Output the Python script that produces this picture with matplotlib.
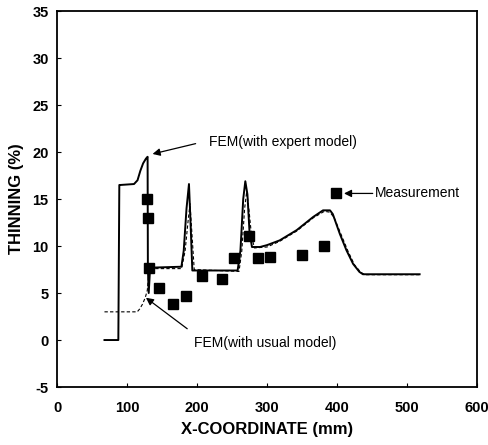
import matplotlib.pyplot as plt

plt.rcParams['font.family'] = ['Liberation Sans', 'DejaVu Sans']
plt.rcParams['axes.unicode_minus'] = False

# FEM with expert model (solid)
expert_x = [67.8, 87.6, 89, 90.5, 110, 115, 119, 123, 127, 129.4, 129.8, 131, 133,
            177.7, 181, 185, 188.5, 191, 193.3, 258, 262, 266, 269, 272, 275, 278.5,
            290, 300, 318, 342.5, 366, 380, 390, 394, 404, 413.5, 423, 432, 437, 518]
expert_y = [0, 0, 16.5, 16.5, 16.6, 17.0, 18.0, 18.8, 19.3, 19.5, 7.7, 5.0, 7.7,
            7.8, 9.5, 14, 16.6, 12, 7.4, 7.4, 9.5, 15, 16.9, 15.5, 11.5, 9.9,
            9.9, 10.1, 10.6, 11.7, 13.1, 13.8, 13.8, 13.4, 11.3, 9.55, 8.1, 7.25, 7.0, 7.0]

# FEM with usual model (dashed)
usual_x = [67.8, 114.6, 118, 122, 126, 129, 131, 134, 178, 183, 187, 190, 193, 196,
           260, 264, 268, 271, 274, 278, 282, 300, 318, 342.5, 366, 382, 390, 396,
           406, 416, 425, 434, 440, 518]
usual_y = [3, 3, 3.3, 3.8, 4.5, 5.3, 7.0, 7.6, 7.6, 9.5, 12.5, 14.5, 11, 7.5,
           7.3, 9.5, 14, 15.8, 14, 11, 9.8, 9.9, 10.5, 11.6, 13.0, 13.7, 13.6, 13,
           11.2, 9.4, 8.0, 7.2, 6.95, 6.95]

# measurements
meas_x = [128, 129.4, 131.7, 146, 165.8, 183.8, 206.5, 235, 253.4, 273.7, 286.5, 304.5, 350.4, 381.7]
meas_y = [15.0, 13.0, 7.7, 5.5, 3.8, 4.7, 6.8, 6.5, 8.7, 11.1, 8.7, 8.8, 9.1, 10.0]

fig = plt.figure(figsize=(4.89, 4.45), dpi=100)
ax = fig.add_axes([0.1166, 0.1303, 0.8589, 0.8447])

ax.plot(usual_x, usual_y, color='k', lw=0.8, ls=(0, (3, 2)))
ax.plot(expert_x, expert_y, color='k', lw=1.4)
ax.plot(meas_x, meas_y, ls='none', marker='s', ms=7, color='k')

arrow = dict(arrowstyle='-|>', color='k', lw=0.9, mutation_scale=11, shrinkA=0, shrinkB=0)
ax.annotate('', xy=(136.5, 19.8), xytext=(198, 20.9), arrowprops=arrow)
ax.text(217, 21.05, 'FEM(with expert model)', fontsize=10, va='center')
ax.annotate('', xy=(127, 4.5), xytext=(186, 1.2), arrowprops=arrow)
ax.text(195.7, -0.35, 'FEM(with usual model)', fontsize=10, va='center')
ax.plot([399], [15.6], ls='none', marker='s', ms=7, color='k')
ax.annotate('', xy=(410, 15.6), xytext=(451, 15.6), arrowprops=arrow)
ax.text(454, 15.6, 'Measurement', fontsize=10, va='center')

ax.set_xlim(0, 600)
ax.set_ylim(-5, 35)
ax.set_xticks(range(0, 601, 100))
ax.set_yticks(range(-5, 36, 5))
ax.tick_params(direction='in', length=3, width=0.8, labelsize=10.5, pad=6)
ax.tick_params(axis='x', pad=10)
for lab in ax.get_xticklabels() + ax.get_yticklabels():
    lab.set_fontweight('bold')
for s in ax.spines.values():
    s.set_linewidth(1.3)
ax.set_xlabel('X-COORDINATE (mm)', fontsize=12, fontweight='bold', labelpad=5)
ax.set_ylabel('THINNING (%)', fontsize=12, fontweight='bold', labelpad=6)

fig.savefig('out.png', dpi=100)
